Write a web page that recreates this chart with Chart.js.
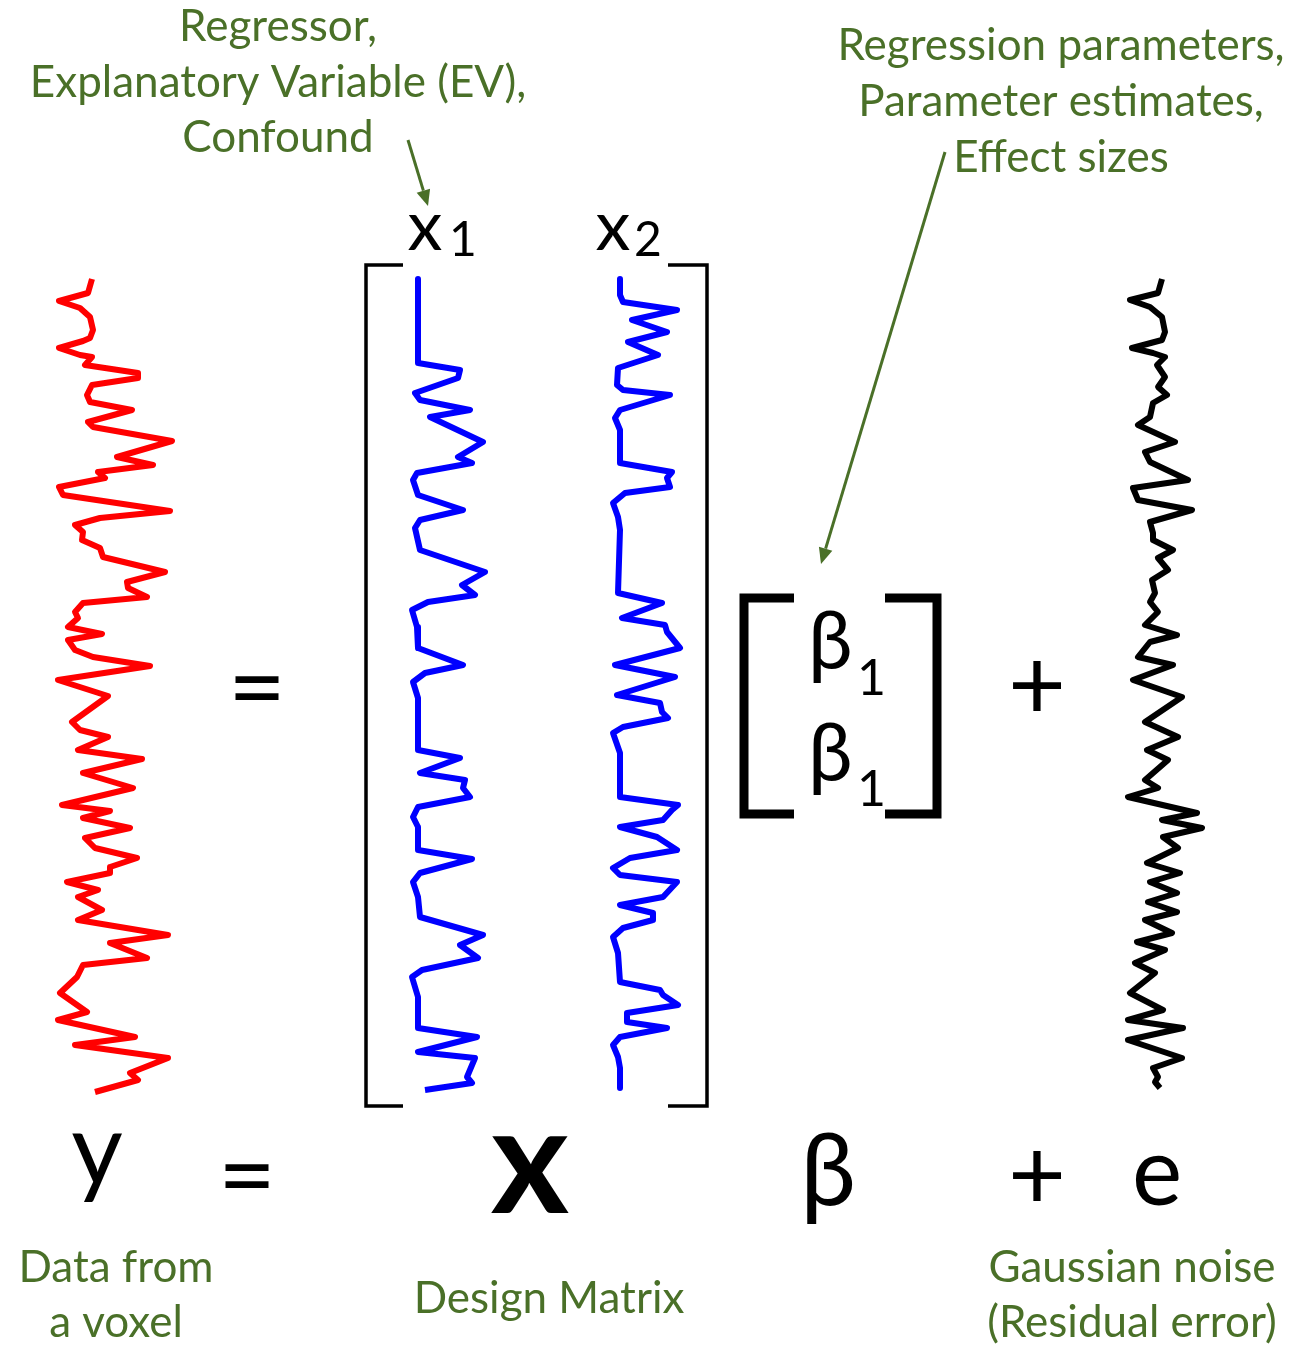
<!DOCTYPE html>
<html>
<head>
<meta charset="utf-8">
<script src="https://cdn.jsdelivr.net/npm/chart.js@4.4.1/dist/chart.umd.min.js"></script>
<style>
  body { margin: 0; background: #fff; }
  #glm { display: block; }
</style>
</head>
<body>
<canvas id="glm" width="1300" height="1352"></canvas>
<script>
// Time axis: scan index of every vertex, value axis: signal in arbitrary units
const voxelScans = [-0.1, 1.3, 2.1, 2.8, 3.7, 5.0, 5.8, 6.1, 6.8, 7.5, 7.7, 8.5, 9.3, 9.8, 10.5, 11.5, 12.2, 13.0, 14.2, 14.7,
  16.1, 17.7, 18.5, 19.2, 19.8, 20.7, 21.5, 23.1, 23.8, 24.5, 25.2, 26.0, 26.8, 27.7, 29.2, 30.2, 30.8, 31.7, 32.3, 33.2,
  33.8, 34.7, 35.4, 36.0, 37.0, 37.7, 38.6, 40.0, 41.6, 44.2, 45.0, 45.7, 47.0, 47.9, 49.3, 50.8, 52.5, 53.1, 53.8, 54.8,
  55.8, 56.8, 57.8, 58.7, 59.3, 60.2, 61.0, 61.7, 63.0, 64.0, 65.5, 66.3, 67.8, 68.5, 69.7, 71.3, 73.2, 74.0, 75.7, 76.5,
  77.8, 79.3, 80.0, 81.2];
const voxelSignal = [-2.3, -2.7, -5.6, -3.5, -2.5, -2.2, -2.5, -3.2, -5.6, -3.5, -2.3, -3.0, 2.3, 2.3, -2.3, -2.8, -2.5, 1.7, -2.7, -2.2,
  5.7, 0.2, 3.8, -1.7, -1.0, -5.6, -5.2, 5.5, -1.5, -4.0, -3.2, -3.3, -1.5, -1.2, 5.0, 1.2, 1.3, 3.2, -3.2, -4.0,
  -3.7, -4.7, -1.3, -4.7, -4.0, -2.2, 3.5, -5.7, -0.7, -4.3, -3.5, -0.7, -3.7, 2.7, -3.2, 1.8, -5.3, -0.5, -3.2, 1.5,
  -3.0, -2.0, 2.2, -0.5, -0.5, -4.8, -1.7, -3.7, -1.3, -3.7, 5.3, -0.5, 3.2, -3.2, -3.8, -5.5, -2.8, -5.7, 2.0, -4.0,
  5.3, 1.5, 2.3, -2.0];

const ev1Scans = [-0.1, 8.3, 9.0, 9.8, 11.3, 12.0, 13.0, 13.7, 16.2, 17.7, 18.3, 19.3, 20.0, 21.5, 23.0, 24.0, 24.8, 27.0,
  29.2, 30.5, 31.5, 32.2, 33.0, 34.7, 36.8, 38.5, 39.3, 40.2, 41.8, 47.0, 47.8, 49.3, 50.0, 50.8, 51.7, 52.7, 53.7, 54.7,
  57.0, 57.9, 59.3, 60.2, 61.7, 63.7, 65.5, 66.5, 67.8, 69.0, 69.7, 71.7, 74.8, 75.7, 77.2, 77.8, 79.7, 80.3, 81.0];
const ev1Values = [0, 0, 4.2, 4.0, -0.3, 0.2, 5.2, 1.2, 6.5, 4.0, 5.4, -0.1, -0.5, 0, 4.5, 0.2, -0.3, 0.2,
  6.7, 4.4, 5.7, 1.0, -0.6, -0.1, 0, 4.5, 0.7, -0.5, 0, 0, 4.2, 0.2, 4.7, 4.5, 5.2, 0, -0.5, 0,
  0, 5.4, 0.2, -0.5, 0, 0.2, 6.5, 4.2, 6.0, 0.4, -0.6, 0, 0, 5.9, 0, 5.7, 4.9, 5.4, 0.7];

const ev2Scans = [-0.1, 1.5, 2.2, 3.0, 4.0, 5.2, 6.2, 7.5, 8.8, 10.5, 11.0, 11.5, 13.0, 13.8, 15.0, 18.3, 19.2, 19.8, 20.7,
  21.3, 22.3, 23.7, 25.0, 31.3, 32.3, 33.8, 34.5, 35.2, 36.8, 38.5, 39.7, 41.5, 42.3, 43.2, 43.8, 44.7, 45.3, 47.3, 51.7,
  52.5, 53.0, 54.0, 54.7, 55.7, 57.0, 57.8, 58.8, 59.5, 60.2, 61.7, 62.5, 63.3, 64.0, 64.8, 65.7, 67.3, 70.2, 71.0, 71.5,
  72.5, 73.3, 74.2, 74.8, 75.7, 76.5, 77.7, 78.8, 80.8];
const ev2Values = [0, 0, 0.3, 5.7, 1.2, 4.7, 0.8, 3.8, -0.2, -0.3, 0.3, 5.0, 0, -0.5, 0, 0, 5.2, 4.7, 5.0,
  0.5, -0.7, -0.2, 0, -0.2, 4.2, 0.2, 4.5, 4.7, 6.0, -0.5, 5.5, -0.3, 4.0, 4.2, 4.8, 0.3, -0.7, 0, 0,
  5.8, 5.2, 4.3, 0, 3.7, 5.7, 1.0, -0.7, 0, 5.7, 4.3, 0, 3.3, 3.3, 0.3, -0.7, -0.2, 0, 4.0, 4.3,
  5.8, 0.7, 0.7, 4.7, 0, -0.7, -0.2, 0, 0];

const noiseScans = [-0.1, 1.3, 2.0, 2.7, 3.7, 5.2, 6.0, 6.8, 7.3, 7.7, 8.5, 9.7, 10.7, 11.5, 12.3, 13.7, 14.5, 16.2, 17.2,
  18.2, 20.0, 20.8, 22.0, 23.0, 24.2, 25.3, 26.0, 27.0, 27.8, 29.0, 30.0, 31.3, 32.2, 33.2, 34.5, 35.5, 36.2, 37.7, 38.5,
  40.0, 41.7, 44.2, 45.7, 47.0, 48.0, 50.0, 50.8, 51.7, 53.3, 54.0, 54.8, 55.7, 56.8, 58.3, 59.3, 60.2, 61.3, 62.2, 63.2,
  64.0, 65.3, 66.2, 67.0, 68.3, 69.3, 71.3, 73.0, 74.0, 74.8, 76.0, 77.8, 78.8, 79.7, 80.2, 80.8];
const noiseValues = [0.2, -0.2, -3.0, -1.0, 0.2, 0.5, 0.2, -2.8, -0.7, 0.5, -0.3, 0.5, -0.2, 0.7, -0.7, -1.0, -2.2, 1.5, -1.5,
  -1.0, 2.8, -2.7, -2.2, 3.2, -1.0, -0.7, -0.7, 1.3, -0.2, 0.8, -0.8, -0.5, -1.0, -0.2, -1.5, 1.7, -1.0, -2.2, 1.3,
  -2.7, 2.2, -1.5, 1.8, -1.3, 0.8, -1.5, -0.2, -3.2, 3.7, 0.2, 4.2, 0.3, 1.8, -1.3, 2.0, -1.0, 1.7, -1.2, 1.7,
  -1.5, 1.2, -2.3, 0.5, -2.5, -0.5, -3.0, 0.3, -3.2, 2.3, -3.2, 2.2, -0.7, -0.2, -0.5, 0];

// layout: where the zero of each panel sits on the page, and scale of both axes
const PX_PER_UNIT = 10;
const panelZero = { voxel: 115, ev1: 418, ev2: 620, noise: 1160 };
const scanTop = -28;            // scan value at the top edge of the canvas
const WIDTH = 1300, HEIGHT = 1352;

const GREEN = '#4a7028';

function toPoints(scans, values) {
  return scans.map((s, i) => ({ x: values[i], y: s }));
}

function valueAxis(zero) {
  return {
    type: 'linear', axis: 'x', position: 'bottom', display: false,
    min: -zero / PX_PER_UNIT, max: (WIDTH - zero) / PX_PER_UNIT
  };
}

function drawText(ctx, str, x, y, font, color, align) {
  ctx.font = font;
  ctx.fillStyle = color;
  ctx.textAlign = align || 'center';
  ctx.textBaseline = 'alphabetic';
  ctx.fillText(str, x, y);
}

function drawArrow(ctx, x1, y1, x2, y2) {
  const ang = Math.atan2(y2 - y1, x2 - x1);
  const head = 16, half = 7;
  const bx = x2 - head * Math.cos(ang), by = y2 - head * Math.sin(ang);
  ctx.strokeStyle = GREEN;
  ctx.fillStyle = GREEN;
  ctx.lineWidth = 3;
  ctx.beginPath();
  ctx.moveTo(x1, y1);
  ctx.lineTo(bx, by);
  ctx.stroke();
  ctx.beginPath();
  ctx.moveTo(x2, y2);
  ctx.lineTo(bx + half * Math.sin(ang), by - half * Math.cos(ang));
  ctx.lineTo(bx - half * Math.sin(ang), by + half * Math.cos(ang));
  ctx.closePath();
  ctx.fill();
}

function bracket(ctx, x, top, bottom, serif, width) {
  ctx.lineWidth = width;
  ctx.strokeStyle = '#000';
  ctx.lineCap = 'butt';
  ctx.lineJoin = 'miter';
  ctx.beginPath();
  ctx.moveTo(x + serif, top);
  ctx.lineTo(x, top);
  ctx.lineTo(x, bottom);
  ctx.lineTo(x + serif, bottom);
  ctx.stroke();
}

const annotations = {
  id: 'glmAnnotations',
  afterDraw(chart) {
    const ctx = chart.ctx;
    const yScale = chart.scales.y;
    const sans = 'Lato, "Noto Sans", sans-serif';
    ctx.save();

    // design matrix brackets, spanning the scan range
    const mTop = yScale.getPixelForValue(-1.5);
    const mBottom = yScale.getPixelForValue(82.6);
    bracket(ctx, 366, mTop, mBottom, 37, 3.5);
    bracket(ctx, 707, mTop, mBottom, -39, 3.5);

    // beta vector brackets
    bracket(ctx, 744, 598, 814, 50, 9);
    bracket(ctx, 937, 598, 814, -52, 9);

    // labels over the regressors
    drawText(ctx, 'x', 425, 250, '70px ' + sans, '#000');
    drawText(ctx, '1', 449, 256, '48px ' + sans, '#000', 'left');
    drawText(ctx, 'x', 613, 250, '70px ' + sans, '#000');
    drawText(ctx, '2', 634, 256, '48px ' + sans, '#000', 'left');

    // betas inside the vector
    drawText(ctx, 'β', 808, 668, '80px ' + sans, '#000', 'left');
    drawText(ctx, '1', 857, 695, '50px ' + sans, '#000', 'left');
    drawText(ctx, 'β', 808, 780, '80px ' + sans, '#000', 'left');
    drawText(ctx, '1', 857, 806, '50px ' + sans, '#000', 'left');

    // operators in the equation
    drawText(ctx, '=', 257, 722, '100px ' + sans, '#000');
    drawText(ctx, '+', 1037, 720, '100px ' + sans, '#000');

    // symbolic equation
    drawText(ctx, 'y', 97, 1185, '100px ' + sans, '#000');
    drawText(ctx, '=', 247, 1210, '100px ' + sans, '#000');
    drawText(ctx, 'x', 530, 1213, 'bold 150px ' + sans, '#000');
    drawText(ctx, 'β', 828, 1205, '100px ' + sans, '#000');
    drawText(ctx, '+', 1037, 1210, '100px ' + sans, '#000');
    drawText(ctx, 'e', 1157, 1205, '95px ' + sans, '#000');

    // green captions
    const cap = '44px ' + sans;
    drawText(ctx, 'Regressor,', 278, 41, cap, GREEN);
    drawText(ctx, 'Explanatory Variable (EV),', 278, 97, cap, GREEN);
    drawText(ctx, 'Confound', 278, 152, cap, GREEN);
    drawText(ctx, 'Regression parameters,', 1061, 60, cap, GREEN);
    drawText(ctx, 'Parameter estimates,', 1061, 116, cap, GREEN);
    drawText(ctx, 'Effect sizes', 1061, 172, cap, GREEN);
    drawText(ctx, 'Data from', 116, 1282, cap, GREEN);
    drawText(ctx, 'a voxel', 116, 1337, cap, GREEN);
    drawText(ctx, 'Design Matrix', 549, 1313, cap, GREEN);
    drawText(ctx, 'Gaussian noise', 1132, 1282, cap, GREEN);
    drawText(ctx, '(Residual error)', 1132, 1337, cap, GREEN);

    drawArrow(ctx, 408, 140, 428, 206);
    drawArrow(ctx, 945, 152, 821, 564);

    ctx.restore();
  }
};

function series(label, scans, values, color, axisId) {
  return {
    label: label,
    data: toPoints(scans, values),
    xAxisID: axisId,
    yAxisID: 'y',
    showLine: true,
    borderColor: color,
    borderWidth: 6,
    pointRadius: 0,
    tension: 0,
    borderJoinStyle: 'round',
    borderCapStyle: 'butt',
    clip: false
  };
}

new Chart(document.getElementById('glm'), {
  type: 'scatter',
  data: {
    datasets: [
      series('Data from a voxel', voxelScans, voxelSignal, '#ff0000', 'xVoxel'),
      series('x1', ev1Scans, ev1Values, '#0000ff', 'xEv1'),
      series('x2', ev2Scans, ev2Values, '#0000ff', 'xEv2'),
      series('Gaussian noise', noiseScans, noiseValues, '#000000', 'xNoise')
    ]
  },
  options: {
    responsive: false,
    animation: false,
    layout: { padding: 0 },
    plugins: { legend: { display: false }, tooltip: { enabled: false } },
    scales: {
      y: { type: 'linear', reverse: true, display: false, min: scanTop, max: scanTop + HEIGHT / PX_PER_UNIT },
      xVoxel: valueAxis(panelZero.voxel),
      xEv1: valueAxis(panelZero.ev1),
      xEv2: valueAxis(panelZero.ev2),
      xNoise: valueAxis(panelZero.noise)
    }
  },
  plugins: [annotations]
});
</script>
</body>
</html>
